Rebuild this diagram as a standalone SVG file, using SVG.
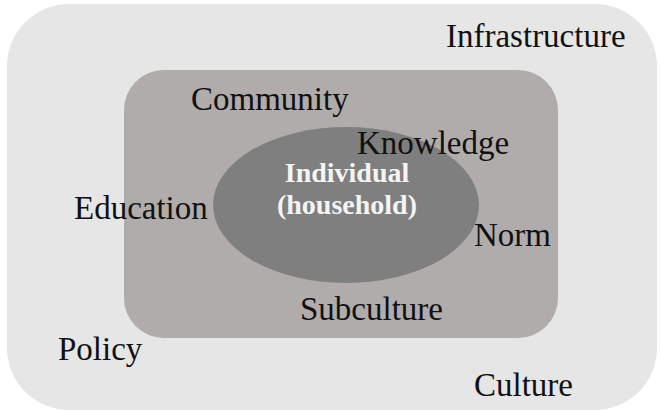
<svg xmlns="http://www.w3.org/2000/svg" width="660" height="412" viewBox="0 0 660 412">
<style>
.lbl{font-family:"Liberation Serif","Times New Roman",serif;font-size:33px;fill:#111}
.core{font-family:"Liberation Serif","Times New Roman",serif;font-size:28px;font-weight:bold;fill:#f4f4f4;text-anchor:middle}
</style>
<rect width="660" height="412" fill="#ffffff"/>
<g id="society">
<rect x="7" y="4" width="650" height="406" rx="62" ry="62" fill="#e6e6e6"/>
<text class="lbl" x="446" y="47">Infrastructure</text>
<text class="lbl" x="58" y="360">Policy</text>
<text class="lbl" x="474" y="396">Culture</text>
</g>
<g id="community">
<rect x="124" y="70" width="434" height="268" rx="40" ry="40" fill="#b0acab"/>
<text class="lbl" x="191" y="110">Community</text>
<text class="lbl" x="74" y="219">Education</text>
<text class="lbl" x="300" y="320">Subculture</text>
</g>
<g id="individual">
<ellipse cx="346" cy="205" rx="133" ry="78" fill="#7f7f7f"/>
<text class="core" x="347" y="182">Individual</text>
<text class="core" x="347" y="214">(household)</text>
</g>
<g id="labels">
<text class="lbl" x="357" y="154">Knowledge</text>
<text class="lbl" x="474" y="246">Norm</text>
</g>
<g id="connectors"/>
</svg>
